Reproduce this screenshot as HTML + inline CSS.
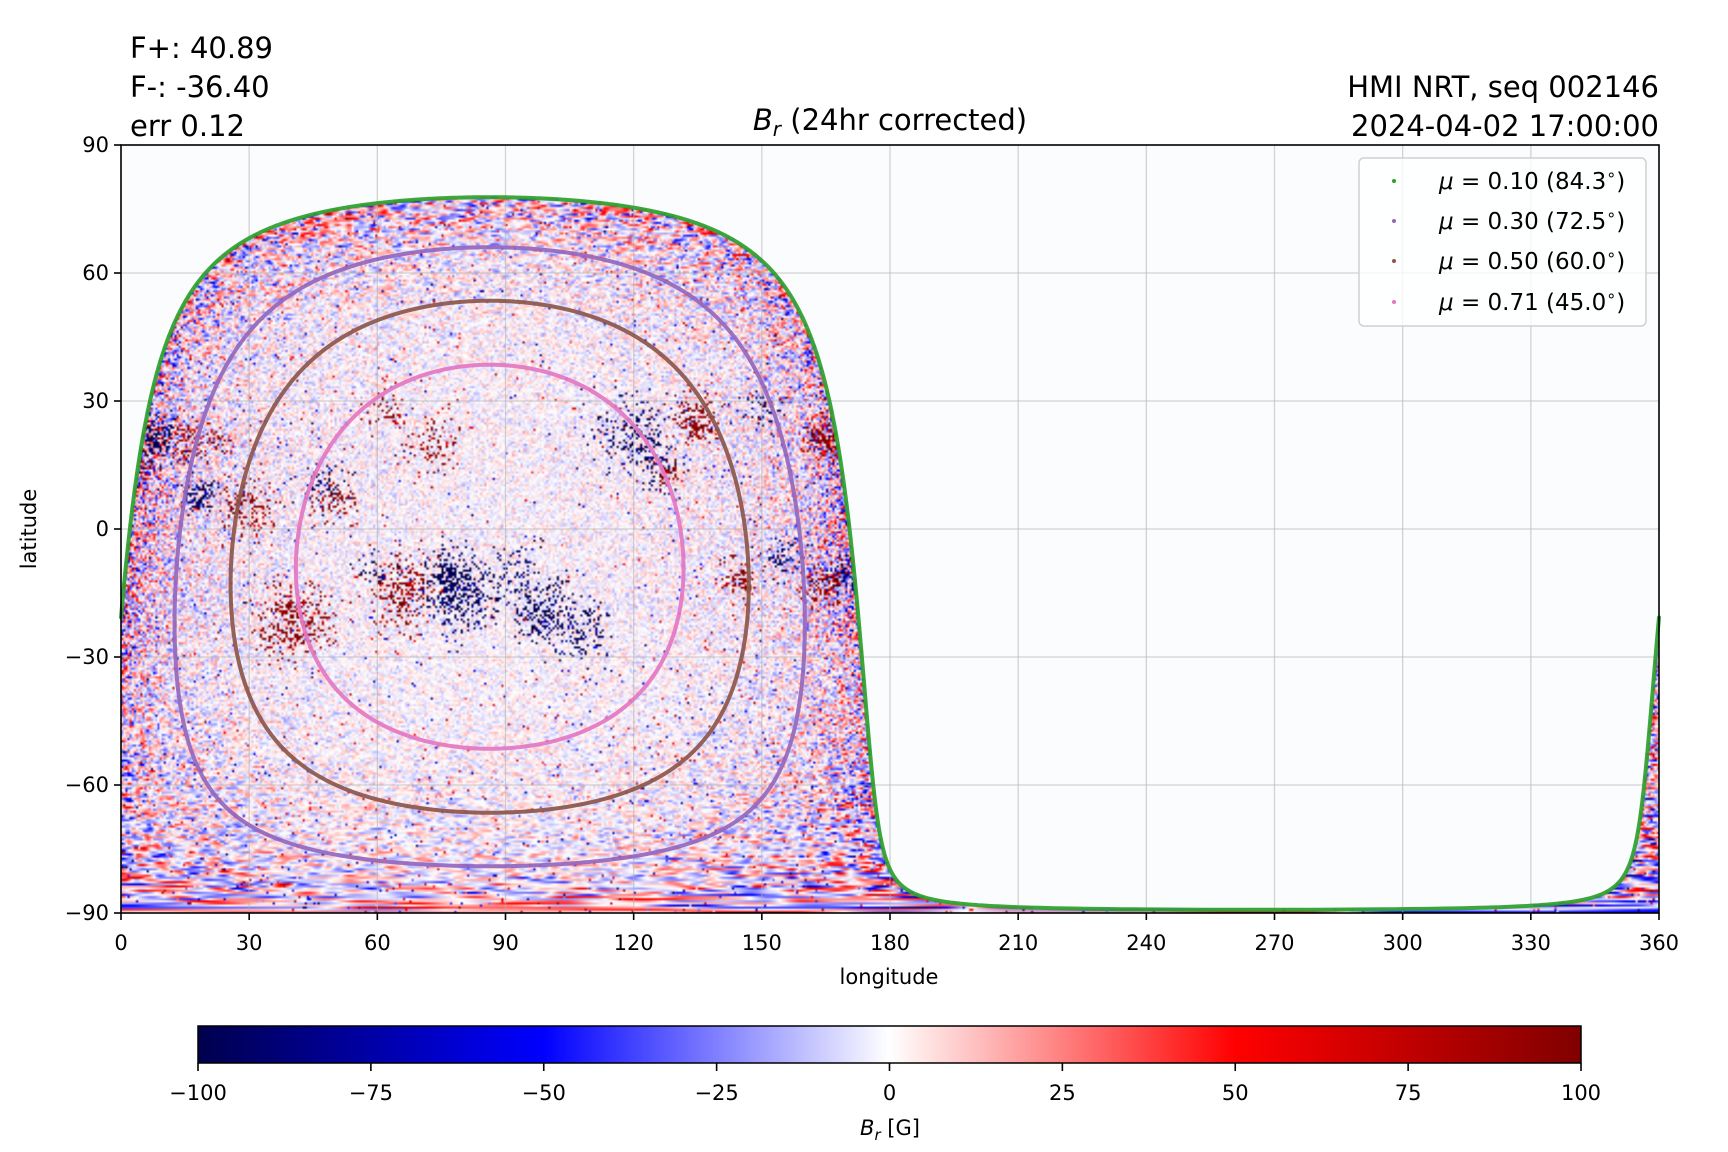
<!DOCTYPE html>
<html><head><meta charset="utf-8">
<style>
html,body{margin:0;padding:0;background:#fff;}
#wrap{position:relative;width:1728px;height:1152px;overflow:hidden;}
#map{position:absolute;left:121px;top:145px;width:1538px;height:768px;image-rendering:auto;}
#ov{position:absolute;left:0;top:0;}
text{font-family:"DejaVu Sans","Liberation Sans",sans-serif;fill:#000;}
</style></head><body>
<div id="wrap">
<canvas id="map" width="720" height="360"></canvas>
<svg id="ov" width="1728" height="1152" xmlns="http://www.w3.org/2000/svg">
<defs>
<linearGradient id="cb" x1="0" x2="1" y1="0" y2="0">
<stop offset="0" stop-color="rgb(0,0,77)"/>
<stop offset="0.25" stop-color="rgb(0,0,255)"/>
<stop offset="0.5" stop-color="rgb(255,255,255)"/>
<stop offset="0.75" stop-color="rgb(255,0,0)"/>
<stop offset="1" stop-color="rgb(128,0,0)"/>
</linearGradient>
</defs>
<g id="grid"></g>
<g id="curves" fill="none" stroke-linejoin="round" stroke-linecap="round"></g>
<rect x="121" y="145" width="1538" height="768" fill="none" stroke="#000" stroke-width="1.6"/>
<g id="ticks"></g>
<rect x="1359" y="158" width="287" height="168" rx="5" fill="#fff" fill-opacity="0.8" stroke="#d0d0d0" stroke-width="1.5"/>
<circle cx="1394" cy="181" r="2" fill="#2ca02c"/>
<circle cx="1394" cy="221" r="2" fill="#9467bd"/>
<circle cx="1394" cy="261" r="2" fill="#8c564b"/>
<circle cx="1394" cy="302" r="2" fill="#e377c2"/>
<g font-size="23">
<text x="1439" y="189"><tspan font-style="italic">μ</tspan> = 0.10 (84.3<tspan dy="-9" font-size="16">∘</tspan><tspan dy="9">)</tspan></text>
<text x="1439" y="229"><tspan font-style="italic">μ</tspan> = 0.30 (72.5<tspan dy="-9" font-size="16">∘</tspan><tspan dy="9">)</tspan></text>
<text x="1439" y="269"><tspan font-style="italic">μ</tspan> = 0.50 (60.0<tspan dy="-9" font-size="16">∘</tspan><tspan dy="9">)</tspan></text>
<text x="1439" y="310"><tspan font-style="italic">μ</tspan> = 0.71 (45.0<tspan dy="-9" font-size="16">∘</tspan><tspan dy="9">)</tspan></text>
</g>
<g font-size="29">
<text x="130" y="58">F+: 40.89</text>
<text x="130" y="97">F-: -36.40</text>
<text x="130" y="136">err 0.12</text>
<text x="1659" y="97" text-anchor="end">HMI NRT, seq 002146</text>
<text x="1659" y="136" text-anchor="end">2024-04-02 17:00:00</text>
<text x="890" y="130" text-anchor="middle"><tspan font-style="italic">B</tspan><tspan font-style="italic" font-size="20" dy="6">r</tspan><tspan dy="-6"> (24hr corrected)</tspan></text>
</g>
<text x="889" y="984" font-size="21" text-anchor="middle">longitude</text>
<text transform="translate(36,529) rotate(-90)" font-size="21" text-anchor="middle">latitude</text>
<rect x="198" y="1026" width="1383" height="37" fill="url(#cb)" stroke="#000" stroke-width="1.5"/>
<g id="cbt"></g>
<text x="890" y="1135" font-size="21" text-anchor="middle"><tspan font-style="italic">B</tspan><tspan font-style="italic" font-size="15" dy="5">r</tspan><tspan dy="-5"> [G]</tspan></text>
</svg>
</div>
<script>
(function(){
var NS="http://www.w3.org/2000/svg";
function el(p,n,a,t){var e=document.createElementNS(NS,n);for(var k in a)e.setAttribute(k,a[k]);if(t!==undefined)e.textContent=t;p.appendChild(e);return e;}
var L=121,T=145,W=1538,H=768;
function X(lon){return L+lon*W/360;}
function Y(lat){return T+(90-lat)*H/180;}
var grid=document.getElementById('grid'),ticks=document.getElementById('ticks');
for(var lon=0;lon<=360;lon+=30){
  if(lon>0&&lon<360)el(grid,'line',{x1:X(lon),x2:X(lon),y1:T,y2:T+H,stroke:'#b0b0b0','stroke-opacity':0.55,'stroke-width':1.3});
  el(ticks,'line',{x1:X(lon),x2:X(lon),y1:T+H,y2:T+H+7,stroke:'#000','stroke-width':1.6});
  el(ticks,'text',{x:X(lon),y:T+H+37,'font-size':21,'text-anchor':'middle'},String(lon));
}
for(var lat=-90;lat<=90;lat+=30){
  if(lat>-90&&lat<90)el(grid,'line',{x1:L,x2:L+W,y1:Y(lat),y2:Y(lat),stroke:'#b0b0b0','stroke-opacity':0.55,'stroke-width':1.3});
  el(ticks,'line',{x1:L-7,x2:L,y1:Y(lat),y2:Y(lat),stroke:'#000','stroke-width':1.6});
  el(ticks,'text',{x:L-12,y:Y(lat)+7,'font-size':21,'text-anchor':'end'},(lat<0?'\u2212'+(-lat):String(lat)));
}
var cbt=document.getElementById('cbt');
for(var v=-100;v<=100;v+=25){
  var x=198+(v+100)/200*1383;
  el(cbt,'line',{x1:x,x2:x,y1:1063,y2:1071,stroke:'#000','stroke-width':1.6});
  el(cbt,'text',{x:x,y:1100,'font-size':21,'text-anchor':'middle'},(v<0?'\u2212'+(-v):String(v)));
}
var D=Math.PI/180,L0=86.3,B0=-6.5;
var sB=Math.sin(B0*D),cB=Math.cos(B0*D);
function mu(lon,lat){return Math.sin(lat*D)*sB+Math.cos(lat*D)*cB*Math.cos((lon-L0)*D);}
var curves=document.getElementById('curves');
[[0.10,'#2ca02c'],[0.30,'#9467bd'],[0.50,'#8c564b'],[0.7071,'#e377c2']].forEach(function(c){
  var rho=Math.acos(c[0]),d='',prev=null,N=6000;
  for(var k=0;k<=N;k++){
    var th=k/N*2*Math.PI;
    var sl=sB*Math.cos(rho)+cB*Math.sin(rho)*Math.cos(th);
    var la=Math.asin(sl)/D;
    var lo=L0+Math.atan2(Math.sin(th)*Math.sin(rho)*cB,Math.cos(rho)-sB*sl)/D;
    lo=((lo%360)+360)%360;
    if(prev===null||Math.abs(lo-prev)>180)d+='M';else d+='L';
    d+=X(lo).toFixed(1)+','+Y(la).toFixed(1)+' ';
    prev=lo;
  }
  el(curves,'path',{d:d,stroke:c[1],'stroke-width':4,'stroke-opacity':0.92});
});
var cv=document.getElementById('map'),ctx=cv.getContext('2d');
var NW=720,NH=360,img=ctx.createImageData(NW,NH),dt=img.data;
function hash(a,b){var h=(a*374761393+b*668265263)|0;h=(h^(h>>>13))*1274126177|0;h=h^(h>>>16);return (h>>>0)/4294967296;}
function gauss(a,b){return (hash(a,b)+hash(a+7919,b+104729)+hash(a+31337,b+7777)-1.5)*2;}
var stops=[[0,0,77],[0,0,255],[255,255,255],[255,0,0],[128,0,0]];
function cmap(v){var t=(Math.max(-100,Math.min(100,v))+100)/200*4;var i=Math.min(3,Math.floor(t)),f=t-i;var a=stops[i],b=stops[i+1];return [a[0]+(b[0]-a[0])*f,a[1]+(b[1]-a[1])*f,a[2]+(b[2]-a[2])*f];}
var blobs=[[8,21,3,-1,1.2],[15,21,3,1,0.6],[18,8,2.5,-1,1],[22,20,2.5,1,0.5],[30,5,4,1,0.7],[40,-22,5,1,0.9],[47,10,3,-1,0.6],[50,7,3,1,0.7],
[62,28,3,1,0.5],[66,-15,5,1,0.7],[73,20,4,1,0.4],[79,-15,5,-1,1],[76,-10,3,-1,0.8],[100,-20,5,-1,0.8],[92,-10,4,-1,0.4],[120,22,5,-1,0.6],
[135,25,3.5,1,1],[128,13,2,1,0.8],[126,14,3,-1,0.5],[145,-12,3,1,0.6],[155,-7,3,-1,0.6],[165,22,3.5,1,1],[164,-13,3,1,0.8],[170,-11,2.5,-1,0.8],
[110,-25,4,-1,0.4],[60,-10,3,-1,0.3],[150,28,3,-1,0.3],[6,15,2,1,0.5]];
for(var j=0;j<NH;j++){
  var la=90-(j+0.5)*0.5,cl=Math.max(Math.cos(la*D),0.015);
  var s=Math.max(1,0.9/cl);
  for(var i=0;i<NW;i++){
    var lo=(i+0.5)*0.5,m=mu(lo,la),p=(j*NW+i)*4,r,g,b;
    if(m<0.1){r=251;g=252;b=254;}
    else{
      var q=i/s,k=Math.floor(q),f=q-k;f=f*f*(3-2*f);
      var n=gauss(k,j)*(1-f)+gauss(k+1,j)*f;
      var jj=Math.floor(j/2);
      var n2=gauss(k+5000,jj)*(1-f)+gauss(k+5001,jj)*f;
      n=n*0.75+n2*0.45;
      var v=n*(4.2/m+3);
      var hr=hash(i+333,j+777);
      if(hr<0.02*(1.3-m))v+=(hash(i,j+55)<0.5?-1:1)*(30+hash(i+9,j)*60);
      for(var bi=0;bi<blobs.length;bi++){
        var B=blobs[bi],dl=(lo-B[0]),db=(la-B[1]),R=B[2]*1.3;
        var d2=(dl*dl+db*db)/(R*R);
        if(d2<5){var pr=Math.exp(-d2)*B[4]*0.55;if(hash(i+bi*97,j+bi*131)<pr)v+=B[3]*(60+hash(i,j+999)*150);}
      }
      var c=cmap(v);r=c[0];g=c[1];b=c[2];
    }
    dt[p]=r;dt[p+1]=g;dt[p+2]=b;dt[p+3]=255;
  }
}
ctx.putImageData(img,0,0);
})();
</script>
</body></html>
